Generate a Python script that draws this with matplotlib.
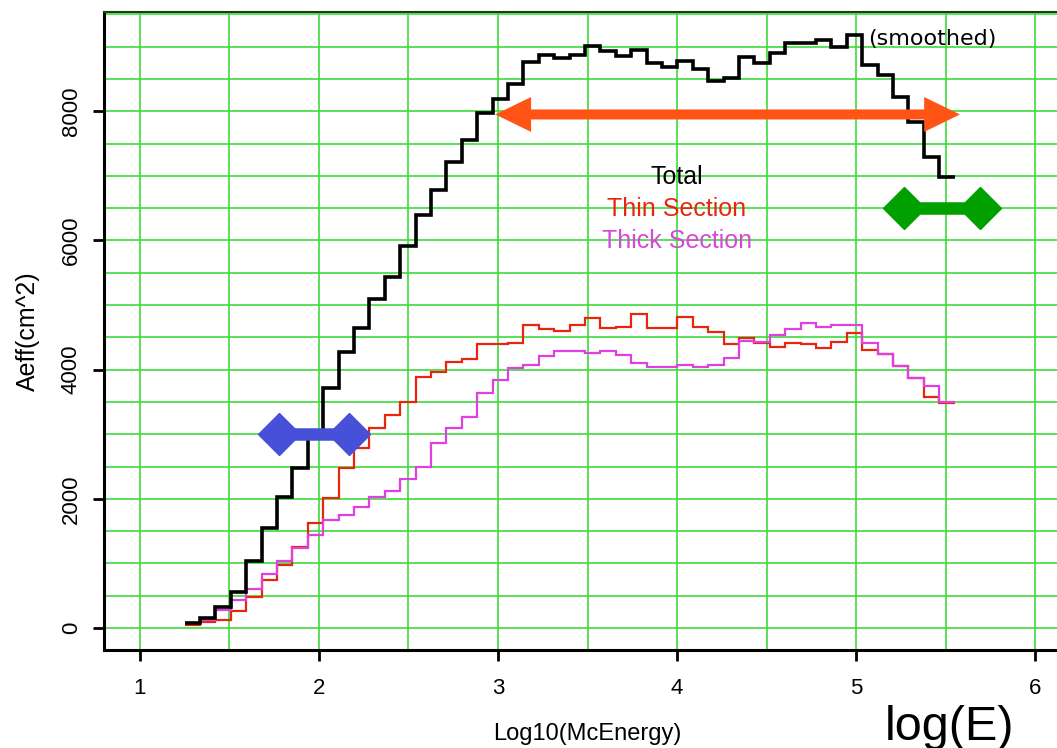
# Aeff vs log10(E) step histograms, redrawn
import numpy as np
import matplotlib.pyplot as plt
from matplotlib.ticker import MultipleLocator

plt.rcParams['font.family'] = ['Liberation Sans', 'DejaVu Sans']
plt.rcParams['xtick.labelsize'] = 16
plt.rcParams['ytick.labelsize'] = 16

# binning in log10(McEnergy)
e_min, e_max, n_bins = 1.25, 5.55, 50
edges = np.linspace(e_min, e_max, n_bins + 1)

# bin contents (cm^2)
total = [80, 155, 325, 555, 1040, 1550, 2030, 2480, 2950, 3710,
         4270, 4650, 5100, 5440, 5910, 6390, 6780, 7210, 7550, 7970,
         8190, 8420, 8760, 8870, 8820, 8870, 9010, 8930, 8850, 8950,
         8750, 8680, 8780, 8650, 8470, 8510, 8840, 8750, 8900, 9060,
         9060, 9100, 8990, 9180, 8720, 8560, 8220, 7830, 7290, 6980]
thin = [46, 98, 124, 268, 485, 743, 975, 1259, 1630, 2007,
        2472, 2782, 3095, 3297, 3500, 3890, 3968, 4120, 4159, 4391,
        4391, 4417, 4690, 4623, 4602, 4690, 4803, 4639, 4664, 4856,
        4639, 4639, 4819, 4664, 4576, 4391, 4484, 4417, 4354, 4417,
        4391, 4339, 4432, 4561, 4303, 4241, 4055, 3865, 3571, 3488]
thick = [83, 124, 279, 434, 599, 836, 1042, 1233, 1440, 1672,
         1749, 1868, 2023, 2126, 2301, 2497, 2859, 3100, 3260, 3643,
         3839, 4020, 4071, 4210, 4293, 4293, 4262, 4293, 4226, 4097,
         4035, 4045, 4071, 4035, 4071, 4175, 4447, 4432, 4540, 4623,
         4716, 4664, 4690, 4690, 4417, 4241, 4055, 3865, 3746, 3503]

xticks = [1, 2, 3, 4, 5, 6]
yticks = [0, 2000, 4000, 6000, 8000]

# annotation markers
arrow_x = [2.985, 5.58]
arrow_y = 7950
blue_x = [1.78, 2.17]
blue_y = 3000
green_x = [5.27, 5.69]
green_y = 6500

fig = plt.figure(figsize=(10.57, 7.48), dpi=100)
ax = fig.add_axes([104 / 1057, 98 / 748, 967 / 1057, 638 / 748])
ax.set_xlim(0.8, 6.2)
ax.set_ylim(-340, 9536)

# grid
ax.set_xticks(xticks)
ax.set_yticks(yticks)
ax.xaxis.set_minor_locator(MultipleLocator(0.5))
ax.yaxis.set_minor_locator(MultipleLocator(500))
ax.set_axisbelow(True)
ax.grid(which='both', color='#3ddc3d', lw=1.2)

# histograms
ax.stairs(thin, edges, baseline=None, color='#e8260e', lw=1.6)
ax.stairs(thick, edges, baseline=None, color='#e040e0', lw=1.6)
ax.stairs(total, edges, baseline=None, color='black', lw=2.6)

# orange double arrow: long arrow to the right, head-only arrow on the left
head_len = 0.2
ax.arrow(arrow_x[0] + 0.1, arrow_y, arrow_x[1] - arrow_x[0] - 0.1, 0,
         width=155, head_width=540, head_length=head_len,
         length_includes_head=True, color='#ff5416', lw=0)
ax.arrow(arrow_x[0] + head_len, arrow_y, -head_len, 0,
         width=155, head_width=540, head_length=head_len,
         length_includes_head=True, color='#ff5416', lw=0)

# dumbbells
ax.plot(blue_x, [blue_y, blue_y], color='#4650d8', lw=9, marker='D', ms=21,
        solid_capstyle='butt')
ax.plot(green_x, [green_y, green_y], color='#00a000', lw=9, marker='D', ms=21,
        solid_capstyle='butt')

# text inside the plot
ax.text(4.0, 6975, 'Total', color='black', fontsize=18, ha='center', va='center')
ax.text(4.0, 6480, 'Thin Section', color='#e8260e', fontsize=18, ha='center', va='center')
ax.text(4.0, 5990, 'Thick Section', color='#d848d8', fontsize=18, ha='center', va='center')
ax.text(5.067, 9124, '(smoothed)', color='black', fontsize=16, ha='left', va='center',
        family='DejaVu Sans')

# axes styling
for side in ['left', 'bottom']:
    ax.spines[side].set_linewidth(2.2)
ax.spines['top'].set_linewidth(1.5)
ax.spines['top'].set_color('#203a20')
ax.spines['right'].set_visible(False)

ax.tick_params(which='minor', length=0)
ax.tick_params(which='major', length=8, width=2, direction='out')
ax.tick_params(axis='x', pad=12)
ax.tick_params(axis='y', pad=8, labelrotation=90)
for lbl in ax.get_yticklabels():
    lbl.set_va('center')

ax.set_xlabel('Log10(McEnergy)', fontsize=17)
ax.xaxis.set_label_coords(0.5, -0.114)
ax.set_ylabel('Aeff(cm^2)', fontsize=18)
ax.yaxis.set_label_coords(-0.066, 0.5)

fig.text(950 / 1057, 8 / 748, 'log(E)', fontsize=35, ha='center', va='baseline')

fig.savefig('out.png', dpi=100)
